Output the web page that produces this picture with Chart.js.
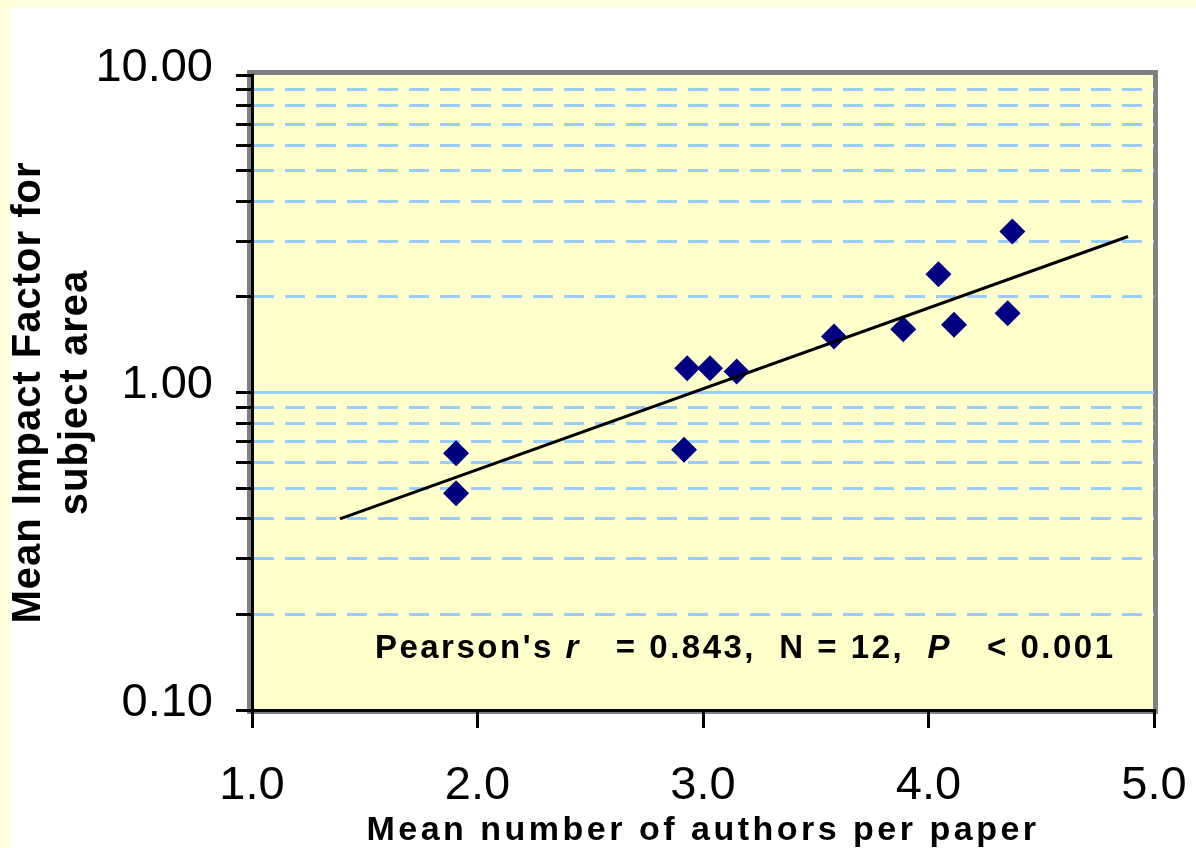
<!DOCTYPE html>
<html>
<head>
<meta charset="utf-8">
<title>Impact factor vs authors per paper</title>
<script src="https://cdn.jsdelivr.net/npm/chart.js@4.4.0/dist/chart.umd.min.js"></script>
<style>
  html, body { margin: 0; padding: 0; background: #FFFFDC; }
  #frame { position: absolute; left: 10px; top: 7px; width: 1186px; height: 841px; background: #fff; }
  canvas { display: block; }
</style>
</head>
<body>
<div id="frame"><canvas id="chart" width="1186" height="841"></canvas></div>
<script>
// values
const authors = [1.905, 1.905, 2.916, 2.930, 3.031, 3.149, 3.581, 3.888, 4.044, 4.113, 4.351, 4.372];
const impact  = [0.644, 0.482, 0.660, 1.193, 1.193, 1.165, 1.501, 1.583, 2.359, 1.634, 1.777, 3.215];

// fitted trend line (ends only, straight on the log axis)
const trendX = [1.39, 4.885];
const trendY = [0.40, 3.10];

const xTicks = [1, 2, 3, 4, 5];
const xTickLabels = ['1.0', '2.0', '3.0', '4.0', '5.0'];
const yTicks = [0.1, 0.2, 0.3, 0.4, 0.5, 0.6, 0.7, 0.8, 0.9, 1, 2, 3, 4, 5, 6, 7, 8, 9, 10];
const yMajor = [0.1, 1, 10];
const yMajorLabels = ['0.10', '1.00', '10.00'];

// stats note: anchor in data units, then text pieces (italic flag)
const statsAnchor = [1.545, 0.146];
const statsParts = [["Pearson's ", false], ['r', true], ['   = 0.843,  N = 12,  ', false], ['P', true], ['   < 0.001', false]];

const FONT = "'Liberation Sans', Arial, sans-serif";

const points = authors.map((a, i) => ({ x: a, y: impact[i] }));
const trend = trendX.map((a, i) => ({ x: a, y: trendY[i] }));

// plot area fill, grey frame and the stats note
const framePlugin = {
  id: 'frame',
  beforeDraw(chart) {
    const { ctx, chartArea: a } = chart;
    ctx.save();
    ctx.fillStyle = '#FFFFCC';
    ctx.fillRect(a.left, a.top, a.right - a.left, a.bottom - a.top);
    ctx.strokeStyle = '#808080';
    ctx.lineWidth = 5;
    ctx.strokeRect(a.left - 2.5, a.top - 2.5, a.right - a.left + 4, a.bottom - a.top + 4);
    ctx.restore();
  },
  afterDraw(chart) {
    const { ctx, scales } = chart;
    let x = scales.x.getPixelForValue(statsAnchor[0]);
    const y = scales.y.getPixelForValue(statsAnchor[1]);
    ctx.save();
    ctx.fillStyle = '#000';
    ctx.textBaseline = 'alphabetic';
    ctx.textAlign = 'left';
    ctx.letterSpacing = '2.5px';
    statsParts.forEach(([txt, it]) => {
      ctx.font = (it ? 'italic ' : '') + 'bold 33px ' + FONT;
      ctx.fillText(txt, x, y);
      x += ctx.measureText(txt).width;
    });
    ctx.restore();
  }
};

// wider letter spacing on the axis titles
const titleSpacing = { x: '3.5px', y: '1px' };
const spacingPlugin = {
  id: 'spacing',
  beforeDraw(chart) {
    Object.keys(titleSpacing).forEach(id => {
      const s = chart.scales[id];
      if (s._spaced) return;
      const orig = s.drawTitle;
      s.drawTitle = function () {
        this.ctx.save();
        this.ctx.letterSpacing = titleSpacing[id];
        orig.apply(this, arguments);
        this.ctx.restore();
      };
      s._spaced = true;
    });
  }
};

new Chart(document.getElementById('chart'), {
  type: 'scatter',
  data: {
    datasets: [{
      data: trend,
      showLine: true,
      borderColor: '#000',
      borderWidth: 3,
      pointRadius: 0,
      fill: false
    }, {
      data: points,
      pointStyle: 'rectRot',
      pointRadius: 13,
      pointBackgroundColor: '#000080',
      pointBorderColor: '#000080',
      pointBorderWidth: 0
    }]
  },
  options: {
    responsive: false,
    animation: false,
    layout: { padding: { left: 0, right: 42, top: 68, bottom: 0 } },
    plugins: { legend: { display: false }, tooltip: { enabled: false } },
    scales: {
      x: {
        type: 'linear', min: 1, max: 5,
        afterBuildTicks: s => { s.ticks = xTicks.map(v => ({ value: v })); },
        afterFit: s => { s.height = 138; s.paddingLeft = 0; s.paddingRight = 0; },
        ticks: {
          autoSkip: false, maxRotation: 0, padding: 30, color: '#000',
          font: { family: FONT, size: 47 },
          callback: v => xTickLabels[xTicks.indexOf(v)]
        },
        grid: { drawOnChartArea: false, color: '#000', lineWidth: 3, tickColor: '#000', tickWidth: 3, tickLength: 18 },
        border: { color: '#000', width: 3 },
        title: {
          display: true, text: 'Mean number of authors per paper', color: '#000',
          font: { family: FONT, size: 34, weight: 'bold' }, padding: { top: 0, bottom: -3 }
        }
      },
      y: {
        type: 'logarithmic', min: 0.1, max: 10,
        afterBuildTicks: s => { s.ticks = yTicks.map(v => ({ value: v })); },
        afterFit: s => { s.width = 242; },
        ticks: {
          autoSkip: false, padding: 23, color: '#000', labelOffset: -7,
          font: { family: FONT, size: 47 },
          callback: v => { const i = yMajor.indexOf(v); return i < 0 ? '' : yMajorLabels[i]; }
        },
        grid: {
          color: c => (c.tick && c.tick.value !== 10 && c.tick.value !== 0.1) ? '#99CCFF' : 'rgba(0,0,0,0)',
          lineWidth: 3, tickColor: '#000', tickWidth: 3, tickLength: 16
        },
        border: {
          color: '#000', width: 3,
          dash: c => (c.type === 'tick' && c.tick && c.tick.value !== 1) ? [20, 11] : []
        },
        title: {
          display: true, text: ['Mean Impact Factor for', 'subject area'], color: '#000',
          font: { family: FONT, size: 40, weight: 'bold', lineHeight: 1.16 }, padding: { top: -4, bottom: 0 }
        }
      }
    }
  },
  plugins: [framePlugin, spacingPlugin]
});
</script>
</body>
</html>
